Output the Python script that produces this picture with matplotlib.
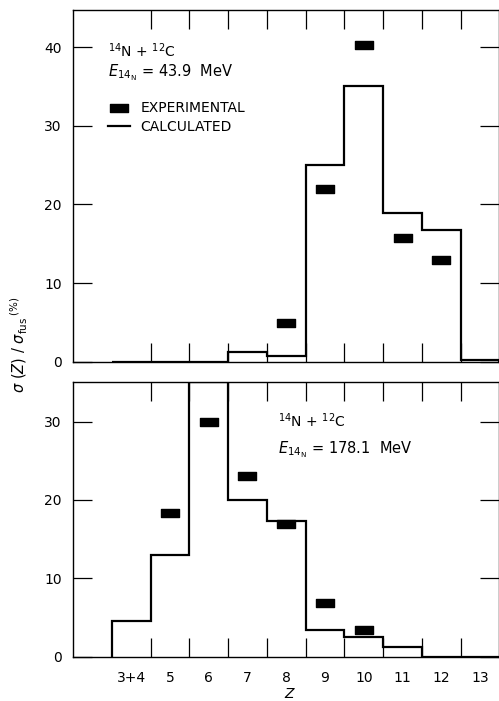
import numpy as np
import matplotlib
matplotlib.use("Agg")
import matplotlib.pyplot as plt
from matplotlib.path import Path

plt.rcParams['font.family'] = 'DejaVu Sans'
plt.rcParams['mathtext.fontset'] = 'dejavusans'
plt.rcParams['font.size'] = 10

# fragment charge Z (3+4 lumped together)
z_labels = ["3+4", "5", "6", "7", "8", "9", "10", "11", "12", "13"]

# 43.9 MeV: calculated cross sections per Z, and measured points
calc_low = [0, 0, 0, 1.2, 0.75, 25.0, 35.0, 18.9, 16.8, 0.25]
exp_low_z = ["8", "9", "10", "11", "12"]
exp_low = [4.9, 22.0, 40.3, 15.7, 12.9]

# 178.1 MeV
calc_high = [4.5, 13.0, 35.0, 20.0, 17.3, 3.4, 2.5, 1.2, 0, 0]
exp_high_z = ["5", "6", "7", "8", "9", "10"]
exp_high = [18.3, 29.9, 23.0, 16.9, 6.8, 3.4]

pos = {lab: i for i, lab in enumerate(z_labels)}
edges = np.arange(len(z_labels) + 1) - 0.5

# flat black bar used for the experimental points
bar = Path([(-1, -0.45), (1, -0.45), (1, 0.45), (-1, 0.45), (-1, -0.45)],
           [Path.MOVETO, Path.LINETO, Path.LINETO, Path.LINETO, Path.CLOSEPOLY])

fig = plt.figure(figsize=(4.99, 7.01), dpi=100)
ax1 = fig.add_axes([0.1463, 0.484, 0.8547, 0.5017])
ax2 = fig.add_axes([0.1463, 0.0632, 0.8547, 0.3914])


def style(ax, ymax, yt):
    ax.set_xlim(-1.5, 9.5)
    ax.set_ylim(0, ymax)
    ax.set_xticks(edges[1:-1])
    ax.set_xticks(range(len(z_labels)), minor=True)
    ax.set_yticks(yt)
    ax.tick_params(which='major', direction='in', length=14, width=0.9,
                   top=True, right=True, labelbottom=False, pad=8)
    ax.tick_params(which='minor', length=0, pad=10)
    for s in ax.spines.values():
        s.set_linewidth(1.0)


style(ax1, 44.7, [0, 10, 20, 30, 40])
style(ax2, 35.0, [0, 10, 20, 30])
ax1.set_xticklabels([], minor=True)
ax2.set_xticklabels(z_labels, minor=True)

ax1.stairs(calc_low, edges, color='black', lw=1.6, label='CALCULATED')
ax1.plot([pos[z] for z in exp_low_z], exp_low, ls='none', marker=bar,
         ms=12.5, color='black', label='EXPERIMENTAL')

ax2.stairs(calc_high, edges, color='black', lw=1.6)
ax2.plot([pos[z] for z in exp_high_z], exp_high, ls='none', marker=bar,
         ms=12.5, color='black')

h, l = ax1.get_legend_handles_labels()
ax1.legend(h[::-1], l[::-1], loc='upper left', bbox_to_anchor=(0.082, 0.74),
           frameon=False, borderpad=0, borderaxespad=0, handlelength=1.6,
           handletextpad=0.75, labelspacing=0.3)

# beam energy label: E with a 14 subscript and N one level lower
ebeam = r'$E_{\mathrm{14}_{\mathrm{N}}}$'
ax1.text(0.082, 0.866, r'$^{14}$N + $^{12}$C', transform=ax1.transAxes,
         va='baseline')
ax1.text(0.082, 0.81, ebeam + ' = 43.9  MeV', transform=ax1.transAxes,
         va='baseline', fontsize=10.5)
ax2.text(0.481, 0.837, r'$^{14}$N + $^{12}$C', transform=ax2.transAxes,
         va='baseline')
ax2.text(0.481, 0.742, ebeam + ' = 178.1  MeV', transform=ax2.transAxes,
         va='baseline', fontsize=10.5)

fig.text(0.038, 1 - 345 / 701, r'$\sigma\ (Z)\ /\ \sigma_{\rm fus}\,^{(\%)}$',
         rotation=90, ha='center', va='center', fontsize=10.5)
fig.text(0.581, 1 - 694 / 701, r'$Z$', ha='center', va='center', fontsize=10)

fig.savefig('out.png', dpi=100)
